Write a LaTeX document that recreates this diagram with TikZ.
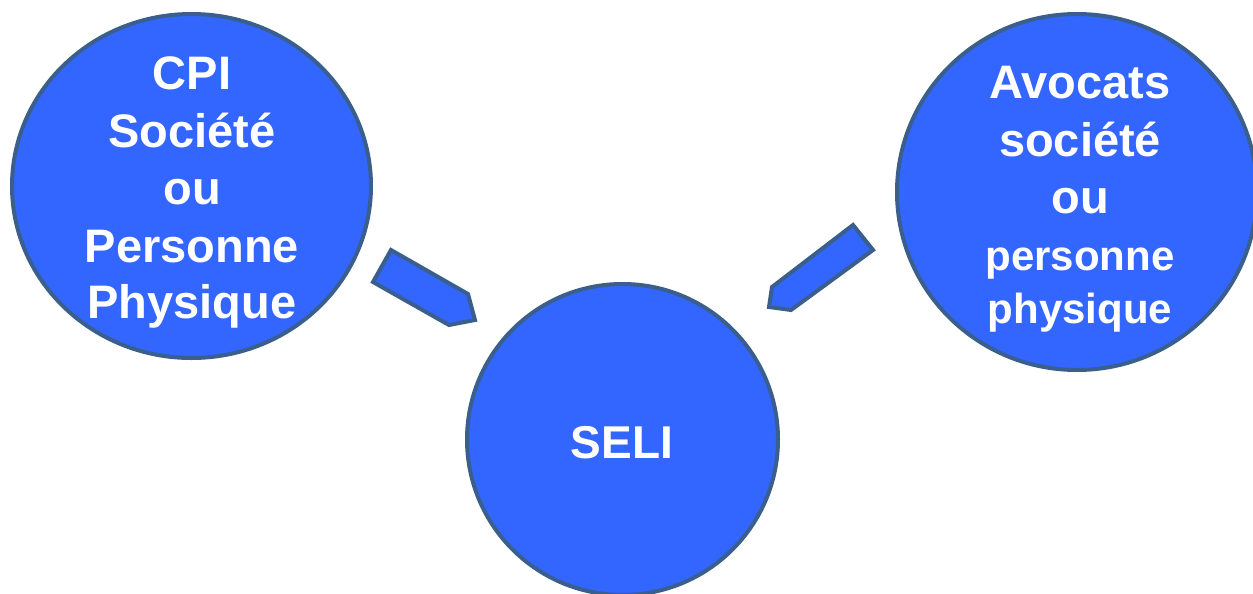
\documentclass[tikz,border=0pt]{standalone}
\usepackage{fontspec}
\setmainfont{Liberation Sans}
\definecolor{bubfill}{HTML}{3366FF}
\definecolor{bubline}{HTML}{3A5F8C}
\begin{document}
\begin{tikzpicture}[x=1pt,y=-1pt,
  bubble/.style={draw=bubline,fill=bubfill,line width=4pt},
  blockarrow/.style={draw=bubline,fill=bubfill,line width=4pt,line join=miter},
  big/.style={text=white,font=\bfseries\fontsize{47}{56}\selectfont,anchor=base,inner sep=0pt},
  mid/.style={text=white,font=\bfseries\fontsize{42}{50}\selectfont,anchor=base,inner sep=0pt}]
\useasboundingbox (0,0) rectangle (1253,594);
% circles
\draw[bubble] (191.5,186) ellipse [x radius=179.5, y radius=172];
\draw[bubble] (1077,192) ellipse [x radius=180, y radius=178];
\draw[bubble] (622.5,439.5) circle [radius=155.5];
% block arrows
\draw[blockarrow] (391,250) -- (468,294) -- (475,320) -- (449,325) -- (373,282) -- cycle;
\draw[blockarrow] (853,225) -- (873,250) -- (791,310) -- (769,307) -- (772,287) -- cycle;
% left text
\node[big] (l1) at (192,89) {CPI};
\node[big] (l2) at (192,147) {Société};
\node[big] (l3) at (192,204) {ou};
\node[big] (l4) at (192,262) {Personne};
\node[big] (l5) at (192,318) {Physique};
% right text
\node[big] (r1) at (1080,98) {Avocats};
\node[big] (r2) at (1080,156) {société};
\node[big] (r3) at (1080,213) {ou};
\node[mid] (r4) at (1080,270) {personne};
\node[mid] (r5) at (1080,323) {physique};
% center text
\node[big,font=\bfseries\fontsize{46}{55}\selectfont] (c1) at (622,458) {SELI};
\end{tikzpicture}
\end{document}
